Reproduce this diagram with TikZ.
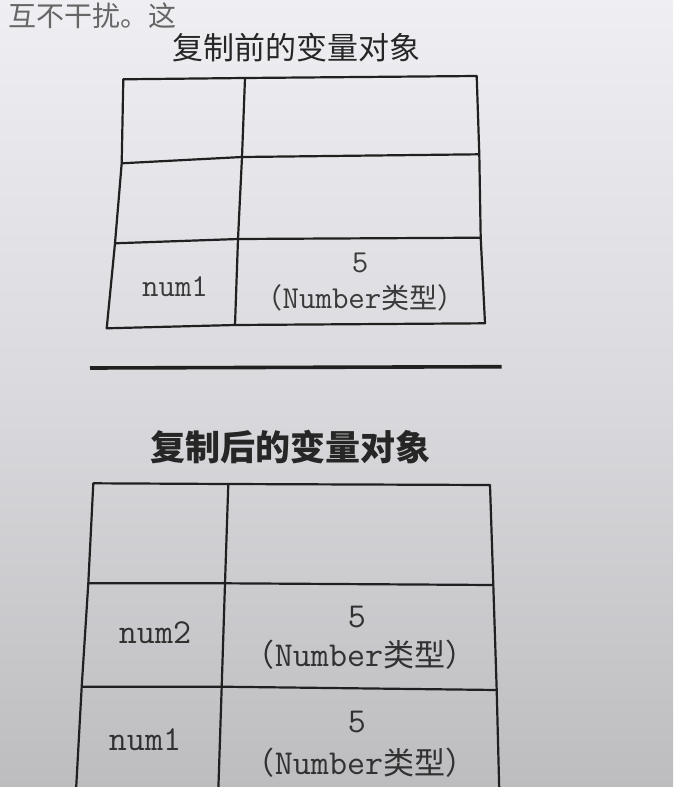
\documentclass[tikz,border=0pt]{standalone}
\usepackage{fontspec}
\setmainfont{Liberation Serif}
\newfontfamily\cjk{Noto Sans CJK SC}
\newfontfamily\mono{Latin Modern Mono}
\definecolor{paperA}{HTML}{EFEFF3}
\definecolor{paperB}{HTML}{DADADE}
\definecolor{paperC}{HTML}{BDBDC0}
\definecolor{inkline}{HTML}{202020}
\definecolor{inktext}{HTML}{3A3A3A}
\begin{document}
\begin{tikzpicture}[x=1pt,y=-1pt,
  gridline/.style={draw=inkline,line width=2.2pt,line join=round},
  sepline/.style={draw=inkline,line width=3.6pt},
  cellA/.style={text=inktext,inner sep=0pt,font=\mono\fontsize{32}{34}\selectfont},
  cellB/.style={text=inktext!85!black,inner sep=0pt,font=\mono\fontsize{35}{37}\selectfont},
  titleA/.style={text=black!85,inner sep=0pt,font=\cjk\fontsize{31}{33}\selectfont},
  titleB/.style={text=black!85,inner sep=0pt,font=\cjk\bfseries\fontsize{35}{37}\selectfont},
  bodytext/.style={text=black!60,inner sep=0pt,font=\cjk\fontsize{28}{30}\selectfont}]
\useasboundingbox (0,0) rectangle (673,787);
\clip (0,0) rectangle (673,787);
\shade[top color=paperA,bottom color=paperC,middle color=paperB] (0,0) rectangle (673,787);

% partial line of body text at the top
\node[bodytext,anchor=base west] (body) at (8,27) {互不干扰。这};

% ---- before copy ----
\node[titleA] (t1) at (296,48) {复制前的变量对象};
\coordinate (a00) at (123.3,79.3);
\coordinate (a01) at (245,78);
\coordinate (a02) at (476.7,76);
\coordinate (a10) at (121.7,163.3);
\coordinate (a11) at (242,157);
\coordinate (a12) at (479.3,154.3);
\coordinate (a20) at (115,243.3);
\coordinate (a21) at (238,239);
\coordinate (a22) at (480.7,237.7);
\coordinate (a30) at (106.7,328.3);
\coordinate (a31) at (235,325);
\coordinate (a32) at (485,323.3);
\draw[gridline] (a00) -- (a01) -- (a02) -- (a12) -- (a22) -- (a32) -- (a31) -- (a30) -- (a20) -- (a10) -- cycle;
\draw[gridline] (a10) -- (a11) -- (a12);
\draw[gridline] (a20) -- (a21) -- (a22);
\draw[gridline] (a01) -- (a11) -- (a21) -- (a31);
\node[cellA] (n1a) at (175,287) {num1};
\node[cellA] (v1a) at (360,263) {5};
\node[cellA] (y1a) at (360,298) {{\cjk\fontsize{28}{30}\selectfont （}Number{\cjk\fontsize{28}{30}\selectfont 类型）}};

% separator
\coordinate (s1) at (90,368);
\coordinate (s2) at (501.7,366.7);
\draw[sepline] (s1) -- (s2);

% ---- after copy ----
\node[titleB] (t2) at (290,447) {复制后的变量对象};
\coordinate (b00) at (93.3,483.3);
\coordinate (b01) at (228.3,484);
\coordinate (b02) at (490,485);
\coordinate (b10) at (88.3,583.3);
\coordinate (b11) at (225,583.3);
\coordinate (b12) at (493.3,585);
\coordinate (b20) at (81.7,686.7);
\coordinate (b21) at (221.7,686.7);
\coordinate (b22) at (496.7,690);
\coordinate (b30) at (75.5,800);
\coordinate (b31) at (218,800);
\coordinate (b32) at (499.5,800);
\draw[gridline] (b30) -- (b20) -- (b10) -- (b00) -- (b01) -- (b02) -- (b12) -- (b22) -- (b32);
\draw[gridline] (b10) -- (b11) -- (b12);
\draw[gridline] (b20) -- (b21) -- (b22);
\draw[gridline] (b01) -- (b11) -- (b21) -- (b31);
\node[cellB] (n2b) at (155,633) {num2};
\node[cellB] (v2b) at (357,617) {5};
\node[cellB] (y2b) at (360,655) {{\cjk\fontsize{31}{33}\selectfont （}Number{\cjk\fontsize{31}{33}\selectfont 类型）}};
\node[cellB] (n1b) at (145,740) {num1};
\node[cellB] (v1b) at (357,722) {5};
\node[cellB] (y1b) at (360,763) {{\cjk\fontsize{31}{33}\selectfont （}Number{\cjk\fontsize{31}{33}\selectfont 类型）}};
\end{tikzpicture}
\end{document}
